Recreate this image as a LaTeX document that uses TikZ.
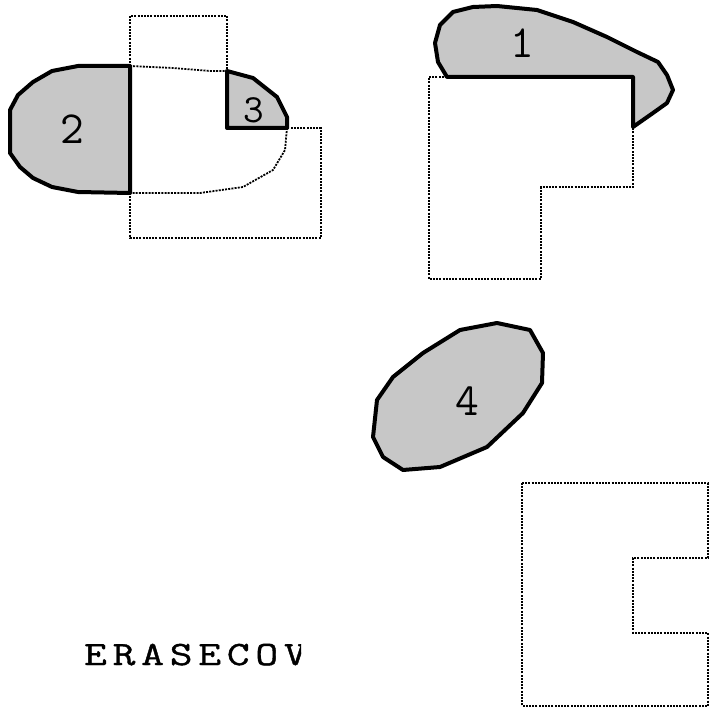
\documentclass[tikz,border=0pt]{standalone}
\usepackage{fontspec}
\newfontfamily\erfont[FakeStretch=1.3,LetterSpace=17,FakeBold=1.2]{Latin Modern Mono}
\begin{document}
\begin{tikzpicture}[x=1pt,y=-1pt,
  dotln/.style={line width=1.8pt, dash pattern=on 2pt off 1.2pt, draw=black},
  region/.style={fill=black!22, draw=black, line width=4pt, line join=round},
  digit/.style={font=\ttfamily\fontsize{46}{46}\selectfont, inner sep=0pt}]
\useasboundingbox (0,0) rectangle (710,708);
% top-left group: dotted outline
\draw[dotln] (130,66) -- (130,16) -- (227,16) -- (227,71);
\draw[dotln] (130,193) -- (130,238) -- (321,238) -- (321,128) -- (287,128);
\draw[dotln] (130,66) -- (173,68) -- (210,71) -- (227,71);
\draw[dotln] (287,128) -- (285,150) -- (273,170) -- (243,187) -- (200,193) -- (130,193);
% region 2
\draw[region] (130,66) -- (78,66) -- (52,71) -- (33,82) -- (18,95) -- (10,110) -- (10,153) -- (20,167) -- (33,178) -- (52,187) -- (78,192) -- (130,193) -- cycle;
% region 3
\draw[region] (227,71) -- (253,78) -- (277,97) -- (287,117) -- (287,128) -- (227,128) -- cycle;
\node[digit] (n2) at (72,129) {2};
\node[digit, font=\ttfamily\fontsize{40}{40}\selectfont] (n3) at (254,110) {3};
% top-right group
\draw[dotln] (447,77) -- (429,77) -- (429,279) -- (541,279) -- (541,187) -- (633,187) -- (633,127);
\draw[region] (447,77) -- (438,62) -- (435,43) -- (440,25) -- (453,12) -- (473,7) -- (497,6) -- (537,10) -- (573,22) -- (607,37) -- (637,52) -- (658,62) -- (667,75) -- (673,90) -- (667,103) -- (653,113) -- (633,127) -- (633,77) -- cycle;
\node[digit] (n1) at (522,43) {1};
% region 4
\draw[region] (373,437) -- (377,400) -- (393,377) -- (423,353) -- (460,330) -- (497,323) -- (530,330) -- (543,353) -- (542,383) -- (523,413) -- (487,447) -- (440,467) -- (403,470) -- (383,457) -- cycle;
\node[digit] (n4) at (467,401) {4};
% bottom-right shape
\draw[dotln] (522,483) -- (708,483) -- (708,558) -- (633,558) -- (633,633) -- (708,633) -- (708,706) -- (522,706) -- cycle;
% label
\begin{scope}
\clip (0,600) rectangle (301,700);
\node[anchor=base west, inner sep=0pt,
  font=\erfont\fontsize{34}{34}\selectfont] (lbl) at (84,665) {ERASECOV};
\end{scope}
\end{tikzpicture}
\end{document}
